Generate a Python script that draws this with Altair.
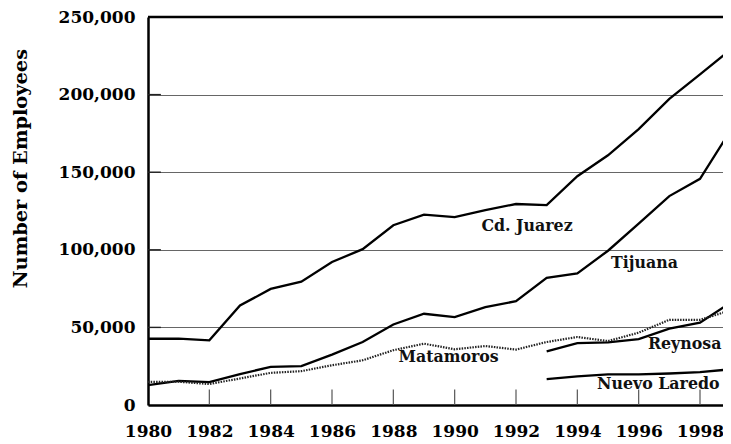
import altair as alt
import pandas as pd

years_full = list(range(1980, 2000))
years_late = list(range(1993, 2000))

juarez = [42700, 42800, 41700, 64100, 74800, 79500, 92100, 100400, 115800, 122600,
          121100, 125600, 129500, 128800, 147400, 160900, 177800, 197200, 213000, 229000]
tijuana = [12800, 15600, 14700, 19900, 24600, 25000, 32500, 40600, 51900, 58800,
           56600, 63000, 66900, 81900, 84800, 99400, 116900, 134600, 145700, 177000]
matamoros = [14900, 15000, 13500, 17100, 20700, 21800, 25600, 28800, 35300, 39500,
             35900, 38000, 35700, 40600, 43800, 41200, 46600, 54900, 54900, 61000]
reynosa = [34600, 39900, 40400, 42500, 49200, 53000, 66000]
nuevo_laredo = [16700, 18400, 19700, 19700, 20300, 21200, 23000]

label_names = ["Cd. Juarez", "Tijuana", "Matamoros", "Reynosa", "Nuevo Laredo"]
label_x = [1992.36, 1996.19, 1989.8, 1997.5, 1996.64]
label_y = [115400, 91500, 30800, 39500, 13500]

y_ticks = [0, 50000, 100000, 150000, 200000, 250000]
x_ticks = list(range(1980, 1999, 2))

rows = []
for name, yrs, vals in [("Cd. Juarez", years_full, juarez), ("Tijuana", years_full, tijuana),
                        ("Matamoros", years_full, matamoros), ("Reynosa", years_late, reynosa),
                        ("Nuevo Laredo", years_late, nuevo_laredo)]:
    for yv, v in zip(yrs, vals):
        rows.append({"city": name, "year": yv, "value": v})
df = pd.DataFrame(rows)
labels_df = pd.DataFrame({"label": label_names, "year": label_x, "value": label_y})
ytick_df = pd.DataFrame({"v": y_ticks[1:-1], "x0": [1980] * 4, "x1": [1980.42] * 4})
xtick_df = pd.DataFrame({"year": x_ticks[1:], "y0": [0] * 9, "y1": [10000] * 9})

FONT = "DejaVu Serif"
XMAX = 1998.75

xscale = alt.Scale(domain=[1980, XMAX], nice=False, zero=False)
yscale = alt.Scale(domain=[0, 250000], nice=False)

x_enc = alt.X("year:Q", scale=xscale, title=None,
              axis=alt.Axis(values=x_ticks, format="d", grid=False, ticks=False, tickSize=0,
                            labelPadding=18, labelFont=FONT, labelFontSize=17,
                            labelFontWeight="bold", labelColor="black",
                            domainColor="black", domainWidth=2.5, labelFlush=False))
y_enc = alt.Y("value:Q", scale=yscale, title="Number of Employees",
              axis=alt.Axis(values=y_ticks, format=",d", grid=True, gridColor="#666666",
                            gridWidth=1.2, ticks=False, tickSize=0, labelPadding=13,
                            labelFont=FONT, labelFontSize=17, labelFontWeight="bold",
                            labelColor="black", domainColor="black", domainWidth=2.5,
                            titleFont=FONT, titleFontSize=19.4, titleFontWeight="bold",
                            titleColor="black", titleAngle=-90, titleX=-128, titleY=151,
                            titleAlign="center", titleBaseline="middle", labelFlush=False))

base = alt.Chart(df)

solid = base.transform_filter(alt.datum.city != "Matamoros").mark_line(
    color="black", strokeWidth=2.3, clip=True
).encode(x=x_enc, y=y_enc, detail="city:N")

dotted = base.transform_filter(alt.datum.city == "Matamoros").mark_line(
    color="#222222", strokeWidth=2.2, strokeDash=[1.5, 1.2], clip=True
).encode(x="year:Q", y="value:Q")

ytk = alt.Chart(ytick_df).mark_rule(color="#222222", strokeWidth=1.4).encode(
    x="x0:Q", x2="x1:Q", y="v:Q")
xtk = alt.Chart(xtick_df).mark_rule(color="#555555", strokeWidth=1.2).encode(
    x="year:Q", y="y0:Q", y2="y1:Q")

top = alt.Chart(pd.DataFrame({"v": [250000]})).mark_rule(color="black", strokeWidth=2.5).encode(
    y="v:Q")

txt = alt.Chart(labels_df).mark_text(font=FONT, fontSize=15.8, fontWeight="bold",
                                     color="#111111", align="center", baseline="middle").encode(
    x="year:Q", y="value:Q", text="label:N")

chart = alt.layer(solid, ytk, xtk, dotted, txt, top).properties(
    width=575, height=388,
    autosize=alt.AutoSizeParams(type="none"),
    padding={"left": 140, "top": 9, "right": 0, "bottom": 39},
).configure_view(stroke=None).configure(background="white")

chart.save("out.html", embed_options={"renderer": "svg", "actions": False})
